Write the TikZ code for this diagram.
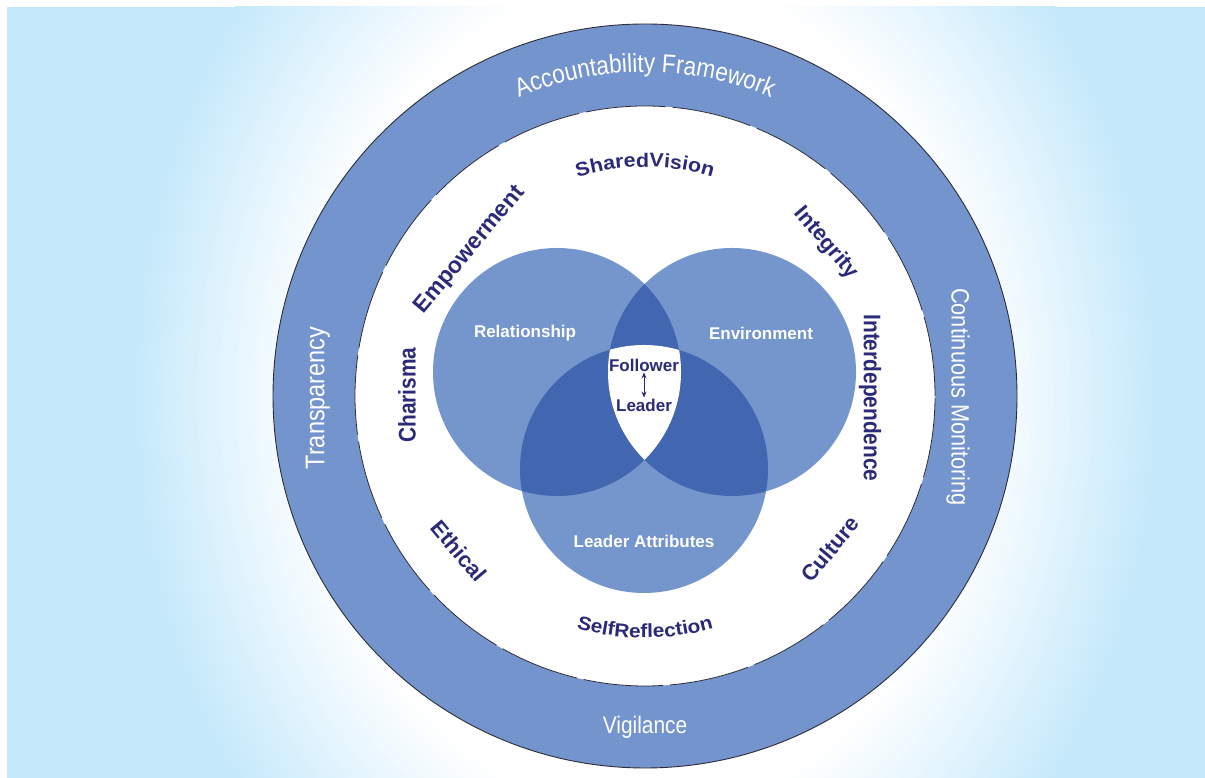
\documentclass[tikz,border=0pt]{standalone}
\usepackage{fontspec}
\setmainfont{Liberation Sans}
\newfontfamily\wideface[FakeStretch=1.1]{Liberation Sans}
\newfontfamily\narrowface[FakeStretch=0.87]{Liberation Sans}
\usetikzlibrary{decorations.text,arrows.meta,calc}
\definecolor{bgblue}{RGB}{197,233,251}
\definecolor{ringblue}{RGB}{115,148,204}
\definecolor{vennlight}{RGB}{116,150,205}
\definecolor{venndark}{RGB}{66,103,176}
\definecolor{navy}{RGB}{42,42,120}
\definecolor{rim}{RGB}{45,45,55}
\newcommand\sz[1]{\fontsize{#1}{#1}\selectfont}
\tikzset{headtip/.tip={Stealth[length=6pt,width=5pt]}}

\begin{document}
\begin{tikzpicture}[x=1pt,y=1pt,
  ringtext/.style={text=white, inner sep=0pt},
  innerlabel/.style={text=navy, inner sep=0pt},
  vennlabel/.style={text=white, inner sep=0pt, font=\bfseries\sz{17}},
  corelabel/.style={text=navy, inner sep=1pt, font=\bfseries\sz{17}},
  disc/.style={radius=124}
]
\useasboundingbox (0,0) rectangle (1205,778);
\fill[white] (0,0) rectangle (1205,778);

\coordinate (C) at (645,382);

% soft blue glow behind the diagram: nested ellipses fading to white
\begin{scope}
  \clip (7,0) rectangle (1205,771);
  \fill[bgblue] (7,0) rectangle (1205,771);
  \foreach \t in {92,91,...,60}{
    \pgfmathsetmacro\mix{(\t-60)*100/32}
    \fill[bgblue!\mix!white] (C) ellipse [x radius=5.6*\t, y radius=7*\t];
  }
\end{scope}

% outer ring and inner field
\fill[ringblue] (C) circle [radius=372];
\draw[rim, line width=0.9pt] (C) circle [radius=372];
\fill[white] (C) circle [radius=290];
\draw[rim, line width=0.8pt, dash pattern=on 80pt off 7pt] (C) circle [radius=290];

% three overlapping circles
\coordinate (R) at (557,406);
\coordinate (E) at (732,406);
\coordinate (L) at (644,309);
\fill[vennlight] (R) circle [disc];
\fill[vennlight] (E) circle [disc];
\fill[vennlight] (L) circle [disc];
\begin{scope}
  \clip (R) circle [disc];
  \fill[venndark] (E) circle [disc];
  \fill[venndark] (L) circle [disc];
\end{scope}
\begin{scope}
  \clip (E) circle [disc];
  \fill[venndark] (L) circle [disc];
\end{scope}
\begin{scope}
  \clip (R) circle [disc];
  \clip (E) circle [disc];
  \fill[white] (L) circle [disc];
\end{scope}

% labels on the outer ring
\path[decorate, decoration={text along path, text align=center, text color=white,
  text={|\narrowface\sz{26}|Accountability Framework}}]
  ($(C)+(150:324)$) arc [start angle=150, end angle=30, radius=324];
\node[ringtext, font=\narrowface\sz{27}, rotate=90] (transp) at (318,380) {Transparency};
\node[ringtext, font=\narrowface\sz{25}, rotate=-90] (contmon) at (958,381) {Continuous Monitoring};
\node[ringtext, font=\narrowface\sz{24}] (vig) at (645,51) {Vigilance};

% labels in the inner field
\path[decorate, decoration={text along path, text align=center, text color=navy,
  text={|\wideface\bfseries\sz{19.5}|SharedVision}}]
  ($(C)+(130:229)$) arc [start angle=130, end angle=50, radius=229];
\path[decorate, decoration={text along path, text align=center, text color=navy,
  text={|\wideface\bfseries\sz{19}|SelfReflection}}]
  ($(C)+(230:242)$) arc [start angle=230, end angle=310, radius=242];
\node[innerlabel, font=\narrowface\bfseries\sz{24}, rotate=90] (charisma) at (407,383) {Charisma};
\node[innerlabel, font=\narrowface\bfseries\sz{24}, rotate=-90] (interdep) at (870,380) {Interdependence};
\node[innerlabel, font=\bfseries\sz{23}, rotate=50] (empow) at (470,528) {Empowerment};
\node[innerlabel, font=\bfseries\sz{22}, rotate=-50] (integ) at (826,535) {Integrity};
\node[innerlabel, font=\bfseries\sz{22}, rotate=-50] (ethic) at (459,227) {Ethical};
\node[innerlabel, font=\bfseries\sz{22}, rotate=50] (cult) at (830,229) {Culture};

% circle captions
\node[vennlabel] (rel) at (525,445) {Relationship};
\node[vennlabel] (env) at (761,445) {Environment};
\node[vennlabel] (attr) at (644,237) {Leader Attributes};
\node[corelabel] (fol) at (644,413) {Follower};
\node[corelabel] (lead) at (644,373) {Leader};
\draw[navy, line width=0.9pt, {headtip}-{headtip}] (fol.south) -- (lead.north);
\end{tikzpicture}
\end{document}
